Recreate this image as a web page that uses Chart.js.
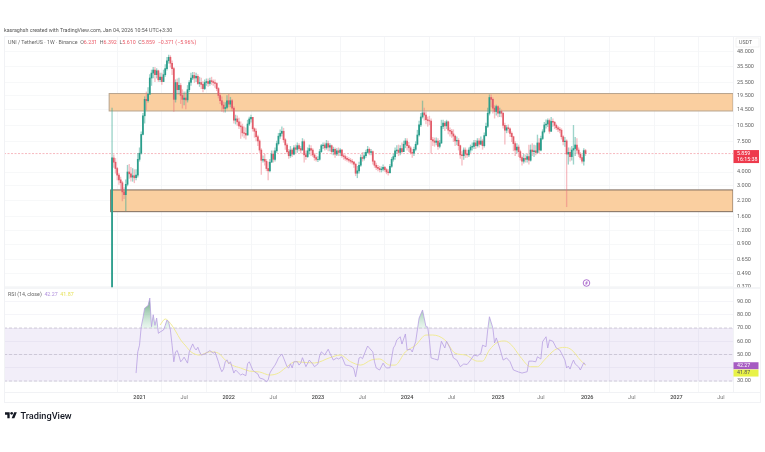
<!DOCTYPE html>
<html>
<head>
<meta charset="utf-8">
<title>UNI / TetherUS</title>
<script src="https://cdn.jsdelivr.net/npm/chart.js@4/dist/chart.umd.js"></script>
<style>
  html, body { margin: 0; padding: 0; background: #fff; width: 765px; height: 452px; overflow: hidden; }
  body { position: relative; font-family: Roboto, "Liberation Sans", sans-serif; filter: blur(0.3px); }
  #chart { position: absolute; left: 0; top: 0; }
  .txt { position: absolute; white-space: nowrap; line-height: 1; }
  .red { color: #ea5a67; }
  #logo { position: absolute; left: 5px; top: 411px; }
</style>
</head>
<body>
<canvas id="chart" width="765" height="452"></canvas>

<div class="txt" style="left:4px;top:28px;font-size:5.3px;color:#555">kasraghsh created with TradingView.com, Jan 04, 2026 10:54 UTC+3:30</div>
<div class="txt" style="left:8px;top:39.5px;font-size:5.3px;color:#666">UNI / TetherUS · 1W · Binance &nbsp;<span>O</span><span class="red">6.231</span> &nbsp;<span>H</span><span class="red">6.392</span> &nbsp;<span>L</span><span class="red">5.610</span> &nbsp;<span>C</span><span class="red">5.859</span> &nbsp;<span class="red">−0.371 (−5.96%)</span></div>
<div class="txt" style="left:8px;top:292px;font-size:5.3px;color:#666">RSI (14, close) &nbsp;<span style="color:#b08fdc">42.27</span> &nbsp;<span style="color:#e6e25c">41.87</span></div>

<svg id="logo" width="12" height="8" viewBox="0 0 36 24"><path fill="#131722" d="M14 22H7V11H0V4h14v18zM28 22h-8l7.5-18h8L28 22z"/><circle fill="#131722" cx="20" cy="7" r="4"/></svg>
<div class="txt" style="left:20.5px;top:410.5px;font-size:9.2px;font-weight:500;color:#131722">TradingView</div>

<script>
// weekly candles, index 0 = week of 2020-09-14
const opens = [
  0.22, 5.35, 4.9, 4.3, 3.75, 3.4, 3.2, 2.65, 2.5, 3.1,
  4, 3.85, 3.6, 3.7, 3.55, 3.75, 5.2, 5.9, 8.7, 12.8,
  18, 17.5, 20, 28, 31, 33, 30, 32.5, 27, 28.5,
  26, 30, 34, 40, 43, 38, 34, 18, 25.5, 22,
  24, 19.5, 18, 18.5, 17.8, 22, 25.5, 28, 29.5, 28,
  29, 25, 25.5, 24.5, 22.5, 25.5, 26, 25, 26.5, 26,
  25.5, 25, 22.5, 19.5, 17.5, 16, 14.9, 15.2, 17.5, 16.3,
  17.5, 15, 11.7, 12, 11.3, 10.4, 10.2, 9, 8.9, 8.6,
  10.8, 12, 12.4, 9.8, 9.3, 8.3, 7.6, 6.3, 5.1, 5.2,
  5, 4.3, 4.1, 4.9, 5.8, 5.2, 6.2, 7.2, 8.4, 8.9,
  9.3, 7.8, 7, 6.1, 5.6, 6.3, 5.8, 6.6, 6.4, 6.9,
  6.5, 6.3, 7.5, 5.7, 5.5, 6.2, 6.5, 6.3, 5.7, 5.4,
  5.2, 5.2, 6.1, 6.9, 7, 6.6, 7.2, 6.7, 6.9, 6.1,
  6.4, 5.8, 6.2, 6, 6.3, 5.6, 5.5, 5.3, 5.2, 5.1,
  5, 4.9, 4.7, 3.9, 4.1, 4.6, 5.4, 5.3, 5.6, 6,
  6.4, 6, 6.1, 5, 4.6, 4.4, 4.3, 4.2, 4.25, 4.4,
  4.2, 4, 3.95, 4.5, 5.2, 5.5, 6.2, 6.3, 6, 6.5,
  6.1, 7.1, 7.6, 6.9, 6.6, 6, 5.9, 6.4, 7.1, 8.6,
  10.6, 12.5, 13.6, 13, 11.8, 11.6, 11.5, 7.8, 7.6, 7.4,
  7.6, 6.8, 7.3, 10.3, 11, 10.4, 11.3, 9.5, 9.3, 8.8,
  8.4, 7.6, 7.7, 6.9, 5.7, 5.6, 6.3, 5.8, 5.7, 6.3,
  6.7, 6.8, 7.3, 6.9, 7.6, 7.1, 7.6, 6.9, 8.5, 10.3,
  13.5, 18.7, 18, 15, 14, 15.5, 13.5, 14, 13.5, 10.5,
  9.5, 10, 9.8, 8.9, 8.3, 7.2, 6.3, 6.7, 6.1, 5.4,
  5, 5.3, 5.2, 5.5, 5.1, 6.3, 6.1, 6.2, 6, 7.3,
  6.3, 8, 9.2, 10.6, 10.8, 11.6, 9.3, 11.4, 11.2, 10.5,
  10, 9.7, 9.5, 8.3, 7.5, 7.6, 5.8, 6, 5.5, 6.3,
  6.5, 7, 6.3, 5.8, 5.4, 5, 6.231
];
const highs = [
  15, 5.7, 5.3, 4.4, 3.9, 3.6, 3.3, 2.9, 3.4, 4.6,
  4.7, 4.4, 4.3, 4.2, 4.2, 5.9, 6.6, 9.2, 13.5, 19,
  21, 23, 30, 33, 35, 35, 34, 33, 31, 31,
  33, 37, 43, 45, 44.5, 40, 35, 27, 27.5, 28,
  25, 22, 21, 21, 24, 26.5, 31, 31.5, 31.5, 31,
  30, 28.5, 28, 26, 27, 27.5, 27.5, 28, 28.5, 27,
  27, 25.5, 23, 20.5, 19, 17, 16.8, 19.5, 20, 18.8,
  18, 15.5, 13, 12.8, 12.2, 11.3, 10.8, 10.2, 10, 11.7,
  12.5, 13, 12.4, 10, 9.8, 8.6, 7.8, 6.5, 5.6, 5.8,
  5.2, 4.9, 5.2, 6.2, 6.2, 6.6, 7.6, 8.9, 9.6, 10.2,
  9.9, 8, 7.2, 6.4, 6.8, 6.5, 6.9, 7, 7.3, 7.2,
  6.8, 8, 7.8, 6.2, 6.6, 7, 6.9, 6.5, 5.9, 5.6,
  5.5, 6.4, 7.1, 7.3, 7.3, 7.7, 7.6, 7.2, 7, 6.7,
  6.6, 6.5, 6.6, 6.5, 6.4, 5.8, 5.7, 5.5, 5.4, 5.3,
  5.2, 5, 4.8, 4.5, 4.9, 5.7, 6, 6, 6.3, 6.8,
  6.6, 6.4, 6.2, 5.1, 4.8, 4.6, 4.5, 4.45, 4.65, 4.5,
  4.3, 4.2, 4.7, 5.4, 5.8, 6.6, 6.9, 7, 6.9, 7.3,
  7.6, 8, 8, 7.4, 6.8, 6.4, 6.7, 7.5, 9.5, 11.5,
  13.5, 17.4, 15, 13.9, 12.5, 12.7, 12, 8.2, 8.1, 8.1,
  8, 7.7, 11.7, 11.7, 11.4, 11.7, 11.5, 10, 9.7, 9.6,
  8.6, 8.3, 8, 7, 6.1, 6.6, 6.6, 6.3, 6.6, 7,
  7.3, 7.7, 7.7, 8, 8, 8.3, 7.9, 9, 11, 15,
  19.8, 19.8, 18.6, 15.8, 16, 15.8, 15, 14.5, 13.7, 11,
  10.5, 10.6, 10, 9.2, 8.4, 7.5, 7.2, 7, 6.3, 5.6,
  5.8, 5.7, 5.8, 7, 7, 7.2, 7, 6.9, 8.6, 8,
  8.4, 9.6, 11.2, 11.8, 12, 12, 12.4, 12, 11.4, 10.8,
  10.3, 10.1, 9.8, 8.5, 8.2, 7.8, 6.6, 6.6, 6.8, 10.5,
  8.2, 8, 6.6, 6, 5.7, 6.5, 6.392
];
const lows = [
  0.2, 4.4, 3.9, 3.4, 3.1, 2.8, 2.2, 2.3, 1.8, 3,
  3.5, 3.3, 3.3, 3.2, 3.4, 3.6, 5, 5.8, 8.6, 11,
  14.5, 17, 20, 24, 28, 26, 28, 26, 26, 24.5,
  26, 29, 33, 38, 35, 30, 14, 17, 20, 20,
  16.5, 15, 16, 14.8, 17, 21, 24, 27, 25.5, 26,
  24.5, 23.5, 22.5, 21, 22, 24, 23.5, 24, 24.5, 24,
  23, 21.5, 18.5, 16.5, 14, 13.8, 13.8, 14.8, 15.4, 15.4,
  14.2, 11, 10.8, 10.5, 9.8, 8, 8.4, 8.1, 7.9, 8.6,
  10.5, 11.2, 9.3, 8.2, 7.6, 6.9, 6, 3.8, 4.9, 4.6,
  4.1, 3.4, 4, 4.9, 4.9, 5, 6, 7, 8, 8.4,
  7.4, 6.4, 5.9, 5.3, 5.4, 5.5, 5.7, 5.9, 6, 6.2,
  5.9, 6.3, 4.9, 5.2, 5.4, 5.8, 5.6, 5.5, 5.1, 5,
  4.95, 5.1, 6, 6.5, 6.3, 6.4, 6.2, 6.2, 5.8, 5.7,
  5.4, 5.6, 5.6, 5.6, 5.4, 5.2, 5.1, 5, 4.9, 4.8,
  4.7, 4.4, 3.7, 3.55, 3.9, 4.5, 5, 5.1, 5.4, 5.9,
  5.7, 5.7, 4.7, 4.4, 4.2, 4.1, 4, 4, 4.1, 4.05,
  3.85, 3.75, 3.9, 4.4, 5, 5.2, 5.9, 5.6, 5.7, 5.9,
  6.1, 6.6, 6.3, 6.1, 5.8, 5.4, 5.6, 6.2, 7, 8.4,
  10.2, 12.2, 11.7, 10.8, 10.3, 10.6, 5.9, 6.9, 6.8, 7,
  6.4, 6.6, 7.2, 9.8, 9.4, 9.8, 8.8, 8.4, 8.2, 7.5,
  6.9, 7, 6.3, 5.3, 4.6, 5.2, 5.4, 5.4, 5.5, 6,
  6.3, 6.5, 6.5, 6.7, 6.7, 7, 6.4, 6.7, 8.4, 10,
  13, 15.4, 13.5, 12.2, 13, 12.5, 12.6, 12.5, 9.9, 7.1,
  9, 9.1, 8.3, 7.5, 6.2, 5.6, 5.9, 5.5, 5.1, 4.6,
  4.8, 4.9, 4.9, 4.7, 5, 5.6, 5.5, 5.7, 5.9, 5.9,
  6.2, 7.8, 9, 9.9, 10.2, 8.9, 9.2, 10.3, 9.8, 9.6,
  9.2, 9, 7.9, 7, 6.8, 1.95, 4.7, 5, 5.1, 4.7,
  5.6, 5.9, 5.5, 5.2, 4.8, 4.6, 5.61
];
const closes = [
  5.35, 4.9, 4.3, 3.75, 3.4, 3.2, 2.65, 2.5, 3.1, 4,
  3.85, 3.6, 3.7, 3.55, 3.75, 5.2, 5.9, 8.7, 12.8, 18,
  17.5, 20, 28, 31, 33, 30, 32.5, 27, 28.5, 26,
  30, 34, 40, 43, 38, 34, 18, 25.5, 22, 24,
  19.5, 18, 18.5, 17.8, 22, 25.5, 28, 29.5, 28, 29,
  25, 25.5, 24.5, 22.5, 25.5, 26, 25, 26.5, 26, 25.5,
  25, 22.5, 19.5, 17.5, 16, 14.9, 15.2, 17.5, 16.3, 17.5,
  15, 11.7, 12, 11.3, 10.4, 10.2, 9, 8.9, 8.6, 10.8,
  12, 12.4, 9.8, 9.3, 8.3, 7.6, 6.3, 5.1, 5.2, 5,
  4.3, 4.1, 4.9, 5.8, 5.2, 6.2, 7.2, 8.4, 8.9, 9.3,
  7.8, 7, 6.1, 5.6, 6.3, 5.8, 6.6, 6.4, 6.9, 6.5,
  6.3, 7.5, 5.7, 5.5, 6.2, 6.5, 6.3, 5.7, 5.4, 5.2,
  5.2, 6.1, 6.9, 7, 6.6, 7.2, 6.7, 6.9, 6.1, 6.4,
  5.8, 6.2, 6, 6.3, 5.6, 5.5, 5.3, 5.2, 5.1, 5,
  4.9, 4.7, 3.9, 4.1, 4.6, 5.4, 5.3, 5.6, 6, 6.4,
  6, 6.1, 5, 4.6, 4.4, 4.3, 4.2, 4.25, 4.4, 4.2,
  4, 3.95, 4.5, 5.2, 5.5, 6.2, 6.3, 6, 6.5, 6.1,
  7.1, 7.6, 6.9, 6.6, 6, 5.9, 6.4, 7.1, 8.6, 10.6,
  12.5, 13.6, 13, 11.8, 11.6, 11.5, 7.8, 7.6, 7.4, 7.6,
  6.8, 7.3, 10.3, 11, 10.4, 11.3, 9.5, 9.3, 8.8, 8.4,
  7.6, 7.7, 6.9, 5.7, 5.6, 6.3, 5.8, 5.7, 6.3, 6.7,
  6.8, 7.3, 6.9, 7.6, 7.1, 7.6, 6.9, 8.5, 10.3, 13.5,
  18.7, 18, 15, 14, 15.5, 13.5, 14, 13.5, 10.5, 9.5,
  10, 9.8, 8.9, 8.3, 7.2, 6.3, 6.7, 6.1, 5.4, 5,
  5.3, 5.2, 5.5, 5.1, 6.3, 6.1, 6.2, 6, 7.3, 6.3,
  8, 9.2, 10.6, 10.8, 11.6, 9.3, 11.4, 11.2, 10.5, 10,
  9.7, 9.5, 8.3, 7.5, 7.6, 5.8, 6, 5.5, 6.3, 6.5,
  7, 6.3, 5.8, 5.4, 5, 6.231, 5.859
];

// RSI turning points
const rsiWeeks = [
  14, 15, 16, 17, 18, 19, 21, 22, 23, 24, 25, 26, 27, 28, 30, 31, 32, 33, 34, 35,
  36, 37, 38, 39, 40, 41, 42, 44, 45, 47, 48, 49, 50, 51, 52, 54, 56, 57, 59, 60,
  62, 63, 64, 65, 66, 67, 68, 69, 71, 72, 73, 75, 76, 78, 79, 80, 82, 83, 85, 86,
  88, 89, 90, 91, 92, 93, 95, 96, 97, 99, 100, 102, 103, 104, 105, 106, 108, 109, 110, 111,
  113, 115, 117, 118, 120, 121, 122, 124, 126, 127, 129, 131, 132, 134, 136, 138, 140, 141, 142, 144,
  145, 146, 148, 149, 151, 152, 153, 154, 156, 158, 159, 160, 162, 164, 165, 166, 168, 169, 171, 172,
  174, 175, 177, 179, 181, 183, 184, 185, 186, 188, 190, 192, 194, 195, 197, 199, 201, 203, 205, 207,
  209, 211, 213, 215, 216, 218, 219, 220, 222, 223, 224, 226, 228, 230, 232, 234, 237, 239, 242, 243,
  245, 247, 248, 250, 251, 253, 254, 255, 257, 259, 261, 262, 264, 265, 266, 267, 268, 269, 270, 272,
  273, 275, 276
];
const rsiValues = [
  36, 52, 57, 71, 77.5, 85, 87, 92.6, 71, 80, 72, 77.5, 66, 67, 68.5, 72, 76, 74.5, 68.5, 57,
  44.5, 52, 53, 49, 44.5, 46, 48, 43.5, 52, 58, 55, 53.4, 55.5, 52, 49.6, 50.4, 52, 53, 51, 52,
  44.5, 40, 37, 39, 44.5, 46, 43, 44.5, 36, 38.3, 37, 34.5, 35.3, 34, 43, 44.5, 38.3, 37, 35.3, 32.3,
  31.5, 30.8, 29.2, 30.8, 36, 38.3, 42, 44.5, 47.4, 50.4, 47.4, 40.8, 39.8, 43, 39.8, 44.5, 44.6, 42, 43.5, 47.6,
  40.8, 45.8, 42.8, 40.8, 42.8, 48.9, 52, 49.6, 54, 51, 45.8, 47.4, 46.6, 48.3, 42, 41.7, 40.8, 39, 33.2, 47.4,
  48, 46.8, 53.4, 56.4, 53.4, 52, 44.5, 39.8, 38.3, 43.5, 41.3, 39.8, 40, 54.9, 57, 61, 63.4, 57.9, 65.5, 53.4,
  54, 51.9, 59.7, 77.5, 83.6, 71, 70.8, 61, 47.4, 46.6, 45.8, 60, 54.9, 60, 54.9, 47.4, 45.8, 40.8, 42.8, 42.5,
  45.8, 49.6, 48.9, 51, 57, 55.9, 68.5, 78.5, 70, 58.7, 62.5, 54.9, 45.8, 47.4, 44.6, 38.3, 36.8, 36, 37, 45,
  45, 44.5, 48.3, 46.6, 59.7, 63.4, 54.9, 61, 60, 54.9, 53.4, 51, 45.8, 39.8, 41.3, 39, 42.8, 45.8, 42.8, 40.6,
  38.3, 43.8, 42.27
];
const rsiMaWeeks = [
  28, 31, 34, 37, 40, 43, 46, 51, 57, 62, 66, 70, 75, 80, 86, 92, 97, 101, 107, 110,
  118, 127, 133, 139, 145, 151, 156, 162, 165, 171, 177, 183, 187, 194, 200, 206, 213, 216, 220, 225,
  229, 233, 238, 244, 248, 252, 258, 264, 268, 273, 276
];
const rsiMaValues = [
  72.3, 76.8, 73.5, 67.7, 61, 56.4, 52, 49.6, 52, 51, 45.8, 42, 39.8, 37.5, 36.8, 34.5, 36, 39.8, 44.6, 44.3,
  43.6, 47.6, 49.6, 44.6, 42, 45.8, 46.6, 42, 42, 52, 57, 64.7, 64.7, 61, 51, 49.6, 45, 45, 53.4, 59.4,
  60.2, 57, 48.3, 40.8, 40.8, 45.8, 53.4, 55.4, 53.4, 45.8, 41.87
];

const priceTicks = [48, 35.5, 25.5, 19.5, 14.5, 10.5, 7.5, 4, 3, 2.2, 1.6, 1.2, 0.9, 0.65, 0.49, 0.37];
const rsiTicks = [90, 80, 70, 60, 50, 40, 30];
const timeTickWeeks = [16, 42, 68, 94, 120, 146, 172, 198, 225, 250, 277, 303, 329, 355];
const timeTickLabels = ['2021', 'Jul', '2022', 'Jul', '2023', 'Jul', '2024', 'Jul', '2025', 'Jul', '2026', 'Jul', '2027', 'Jul'];

// drawn zones [bottom price, top price, first week]
const upperZone = [14.15, 20.3, -1.7];
const lowerZone = [1.76, 2.76, -0.8];
const lastPrice = 5.859;
const rsiLast = 42.27;
const rsiMaLast = 41.87;

const UP = '#2a9d8b';
const DOWN = '#e25c69';
const UP_WICK = 'rgba(60,170,150,0.5)';
const DOWN_WICK = 'rgba(235,110,125,0.45)';

const ctx = document.getElementById('chart').getContext('2d');
const greenFade = ctx.createLinearGradient(0, 298, 0, 328);
greenFade.addColorStop(0, 'rgba(60,140,90,0.85)');
greenFade.addColorStop(1, 'rgba(170,220,190,0.25)');

function isUp(i) { return closes[i] >= opens[i]; }

// zones, RSI band and price line sit under the candles
const underlay = {
    id: 'underlay',
    beforeDatasetsDraw(chart) {
        const c = chart.ctx, a = chart.chartArea;
        const { x, y, rsi } = chart.scales;
        c.save();

        [[upperZone, '#b7a48e'], [lowerZone, '#7c6b5c']].forEach(([z, edge]) => {
            const left = x.getPixelForValue(z[2]);
            const top = y.getPixelForValue(z[1]);
            const bottom = y.getPixelForValue(z[0]);
            c.fillStyle = '#facfa0';
            c.fillRect(left, top, a.right - left, bottom - top);
            c.strokeStyle = edge;
            c.lineWidth = 1;
            c.strokeRect(left, top, a.right - left, bottom - top);
        });

        c.fillStyle = 'rgba(126,87,194,0.1)';
        c.fillRect(a.left, rsi.getPixelForValue(70), a.right - a.left, rsi.getPixelForValue(30) - rsi.getPixelForValue(70));
        c.strokeStyle = '#c2bccb';
        c.lineWidth = 0.7;
        c.setLineDash([3, 2]);
        [70, 50, 30].forEach(v => {
            const py = rsi.getPixelForValue(v);
            c.beginPath(); c.moveTo(a.left, py); c.lineTo(a.right, py); c.stroke();
        });

        const py = y.getPixelForValue(lastPrice);
        c.strokeStyle = '#f29aa4';
        c.setLineDash([2, 1.5]);
        c.beginPath(); c.moveTo(a.left, py); c.lineTo(a.right, py); c.stroke();
        c.restore();
    }
};

// frame, axis tags and the little event marker
const overlay = {
    id: 'overlay',
    afterDraw(chart) {
        const c = chart.ctx, a = chart.chartArea;
        const { x, y, rsi } = chart.scales;
        c.save();

        c.strokeStyle = '#f1f2f5';
        c.lineWidth = 1;
        c.strokeRect(4.5, 36.5, 756, 366);
        c.beginPath();
        c.moveTo(a.right + 0.5, 36); c.lineTo(a.right + 0.5, a.bottom);
        c.moveTo(4, a.bottom + 0.5); c.lineTo(761, a.bottom + 0.5);
        c.stroke();
        c.lineWidth = 1.5;
        c.beginPath();
        c.moveTo(4, y.bottom); c.lineTo(761, y.bottom);
        c.stroke();

        c.textBaseline = 'middle';
        c.textAlign = 'left';
        c.font = '5.3px Roboto, sans-serif';

        const tagY = y.getPixelForValue(lastPrice);
        c.fillStyle = '#ee3a4c';
        c.fillRect(a.right + 0.5, tagY - 3.5, 25.5, 13);
        c.fillStyle = '#fff';
        c.fillText('5.859', a.right + 4, tagY);
        c.fillText('16:15:38', a.right + 4, tagY + 6);

        const rsiY = rsi.getPixelForValue(rsiLast) + 1;
        c.fillStyle = '#a65cc2';
        c.fillRect(a.right + 0.5, rsiY - 3.5, 25, 7);
        c.fillStyle = '#fff';
        c.fillText('42.27', a.right + 4, rsiY);
        c.fillStyle = '#e8f247';
        c.fillRect(a.right + 0.5, rsiY + 3.8, 25, 7);
        c.fillStyle = '#555';
        c.fillText('41.87', a.right + 4, rsiY + 7.3);

        c.fillStyle = '#fff';
        c.strokeStyle = '#eee';
        c.lineWidth = 0.7;
        c.fillRect(a.right + 3, 38, 23, 9);
        c.strokeRect(a.right + 3, 38, 23, 9);
        c.fillStyle = '#666';
        c.fillText('USDT', a.right + 6, 42.7);

        const mx = x.getPixelForValue(276) + 1;
        const my = y.bottom - 5;
        c.strokeStyle = '#9c4fc4';
        c.lineWidth = 0.8;
        c.beginPath(); c.arc(mx, my, 3.3, 0, Math.PI * 2); c.stroke();
        c.beginPath();
        c.moveTo(mx + 0.6, my - 1.8); c.lineTo(mx - 0.9, my + 0.3); c.lineTo(mx + 0.9, my - 0.3); c.lineTo(mx - 0.6, my + 1.8);
        c.stroke();
        c.restore();
    }
};

const weeks = closes.map((_, i) => i);

new Chart(ctx, {
    type: 'bar',
    data: {
        datasets: [
            {
                label: 'RSI',
                type: 'line',
                xAxisID: 'x',
                yAxisID: 'rsi',
                data: rsiWeeks.map((w, i) => ({ x: w, y: rsiValues[i] })),
                borderColor: '#b8a0e2',
                borderWidth: 0.8,
                pointRadius: 0,
                order: 1,
                fill: { target: { value: 70 }, above: greenFade, below: 'rgba(0,0,0,0)' }
            },
            {
                label: 'RSI MA',
                type: 'line',
                xAxisID: 'x',
                yAxisID: 'rsi',
                data: rsiMaWeeks.map((w, i) => ({ x: w, y: rsiMaValues[i] })),
                borderColor: '#f0ea96',
                borderWidth: 1,
                pointRadius: 0,
                cubicInterpolationMode: 'monotone',
                order: 2
            },
            {
                label: 'body',
                xAxisID: 'x',
                yAxisID: 'y',
                data: weeks.map(i => ({ x: i, y: [opens[i], closes[i]] })),
                backgroundColor: weeks.map(i => isUp(i) ? UP : DOWN),
                barThickness: 1.1,
                grouped: false,
                order: 3
            },
            {
                label: 'wick',
                xAxisID: 'x',
                yAxisID: 'y',
                data: weeks.map(i => ({ x: i, y: [lows[i], highs[i]] })),
                backgroundColor: weeks.map(i => isUp(i) ? UP_WICK : DOWN_WICK),
                barThickness: 0.7,
                grouped: false,
                order: 4
            }
        ]
    },
    options: {
        responsive: false,
        animation: false,
        events: [],
        layout: { padding: { left: 4, top: 36, right: 5, bottom: 50 } },
        plugins: { legend: { display: false }, tooltip: { enabled: false } },
        scales: {
            x: {
                type: 'linear',
                offset: false,
                min: -63,
                max: 362,
                grid: { color: '#f3f4f6', lineWidth: 0.8, drawTicks: false },
                border: { display: false },
                afterBuildTicks: s => { s.ticks = timeTickWeeks.map(v => ({ value: v })); },
                afterFit: s => { s.height = 10; },
                ticks: {
                    autoSkip: false,
                    maxRotation: 0,
                    padding: 2,
                    font: c => ({ size: 5.5, family: 'Roboto, sans-serif', weight: c.index % 2 ? 'normal' : '500' }),
                    color: c => c.index % 2 ? '#777' : '#444',
                    callback: v => timeTickLabels[timeTickWeeks.indexOf(v)]
                }
            },
            y: {
                type: 'logarithmic',
                position: 'right',
                stack: 'panes',
                stackWeight: 252,
                min: 0.3624,
                max: 66.8,
                grid: { color: '#f5f6f8', lineWidth: 0.8, drawTicks: false },
                border: { display: false },
                afterBuildTicks: s => { s.ticks = priceTicks.map(v => ({ value: v })); },
                afterFit: s => { s.width = 27; },
                ticks: {
                    autoSkip: false,
                    padding: 4,
                    crossAlign: 'near',
                    color: '#666',
                    font: { size: 5.5, family: 'Roboto, sans-serif' },
                    callback: v => Number(v).toFixed(3)
                }
            },
            rsi: {
                type: 'linear',
                position: 'right',
                stack: 'panes',
                stackWeight: 104,
                min: 21.7,
                max: 100.2,
                grid: { color: '#f3f3f7', lineWidth: 0.8, drawTicks: false },
                border: { display: false },
                afterBuildTicks: s => { s.ticks = rsiTicks.map(v => ({ value: v })); },
                afterFit: s => { s.width = 27; },
                ticks: {
                    autoSkip: false,
                    padding: 4,
                    crossAlign: 'near',
                    color: '#666',
                    font: { size: 5.5, family: 'Roboto, sans-serif' },
                    callback: v => Number(v).toFixed(2)
                }
            }
        }
    },
    plugins: [underlay, overlay]
});
</script>
</body>
</html>
